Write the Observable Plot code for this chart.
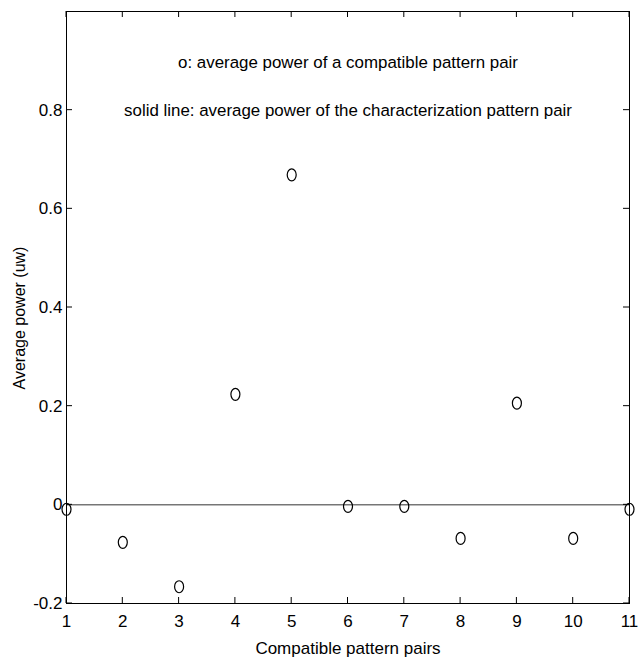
<!DOCTYPE html>
<html>
<head>
<meta charset="utf-8">
<script src="https://cdn.jsdelivr.net/npm/d3@7"></script>
<script src="https://cdn.jsdelivr.net/npm/@observablehq/plot@0.6"></script>
<style>
  html, body { margin: 0; padding: 0; background: #fff; }
  #chart svg { display: block; }
</style>
</head>
<body>
<div id="chart"></div>
<script>
// Data
const pairs = [1, 2, 3, 4, 5, 6, 7, 8, 9, 10, 11];
const avgPower = [-0.009, -0.076, -0.166, 0.224, 0.669, -0.003, -0.003, -0.068, 0.206, -0.068, -0.009];
const characterizationPower = 0.0;
const xTicks = [1, 2, 3, 4, 5, 6, 7, 8, 9, 10, 11];
const yTicks = [-0.2, 0, 0.2, 0.4, 0.6, 0.8];
const annotations = [
  {text: "o: average power of a compatible pattern pair", y: 0.897},
  {text: "solid line: average power of the characterization pattern pair", y: 0.8}
];

const data = pairs.map((p, i) => ({pair: p, power: avgPower[i]}));

const ellipse = {
  draw(context, size) {
    const r = Math.sqrt(size / Math.PI);
    const rx = r * 0.75, ry = r, k = 0.5523;
    context.moveTo(rx, 0);
    context.bezierCurveTo(rx, ry * k, rx * k, ry, 0, ry);
    context.bezierCurveTo(-rx * k, ry, -rx, ry * k, -rx, 0);
    context.bezierCurveTo(-rx, -ry * k, -rx * k, -ry, 0, -ry);
    context.bezierCurveTo(rx * k, -ry, rx, -ry * k, rx, 0);
    context.closePath();
  }
};

const fmt = d => d === 0 ? "0" : d.toFixed(1); // plain hyphen minus

const chart = Plot.plot({
  width: 641,
  height: 660,
  marginLeft: 66,
  marginRight: 12,
  marginTop: 11,
  marginBottom: 57,
  style: {fontFamily: "'Liberation Sans', Arial, sans-serif", fontSize: "17px", color: "black", background: "white"},
  x: {domain: [1, 11], ticks: xTicks, label: null},
  y: {domain: [-0.2, 1.0], ticks: yTicks, label: null},
  marks: [
    Plot.ruleY([characterizationPower], {stroke: "#333", strokeWidth: 1}),
    Plot.axisX(xTicks, {anchor: "bottom", tickSize: 0, tickPadding: 11, fontSize: 17, label: null}),
    Plot.axisY(yTicks, {anchor: "left", tickSize: 0, tickPadding: 4, fontSize: 17, tickFormat: fmt, label: null}),
    Plot.frame({stroke: "black", strokeWidth: 1}),
    Plot.text(annotations, {x: () => 6, y: "y", text: "text", fontSize: 16.9, fill: "black", textAnchor: "middle"}),
    Plot.dot(data, {x: "pair", y: "power", symbol: ellipse, r: 6, stroke: "black", strokeWidth: 1.2, fill: "none"})
  ]
});

// Inward tick marks on all four sides, positioned with the plot's own scales
const sx = chart.scale("x"), sy = chart.scale("y");
const X = v => sx.apply(v), Y = v => sy.apply(v);
const [x0, x1] = sx.domain, [y0, y1] = sy.domain;
const T = 6;
const svg = d3.select(chart);
const g = svg.append("g").attr("stroke", "black").attr("stroke-width", 1);
xTicks.forEach(v => {
  g.append("line").attr("x1", X(v)).attr("x2", X(v)).attr("y1", Y(y0)).attr("y2", Y(y0) - T);
  g.append("line").attr("x1", X(v)).attr("x2", X(v)).attr("y1", Y(y1)).attr("y2", Y(y1) + T);
});
yTicks.forEach(v => {
  g.append("line").attr("y1", Y(v)).attr("y2", Y(v)).attr("x1", X(x0)).attr("x2", X(x0) + T);
  g.append("line").attr("y1", Y(v)).attr("y2", Y(v)).attr("x1", X(x1)).attr("x2", X(x1) - T);
});

svg.append("text")
  .attr("x", 348).attr("y", 654)
  .attr("text-anchor", "middle")
  .attr("font-size", 17)
  .attr("fill", "black")
  .text("Compatible pattern pairs");
svg.append("text")
  .attr("transform", "translate(25,318) rotate(-90)")
  .attr("text-anchor", "middle")
  .attr("font-size", 16)
  .attr("fill", "black")
  .text("Average power (uw)");

document.getElementById("chart").appendChild(chart);
</script>
</body>
</html>
